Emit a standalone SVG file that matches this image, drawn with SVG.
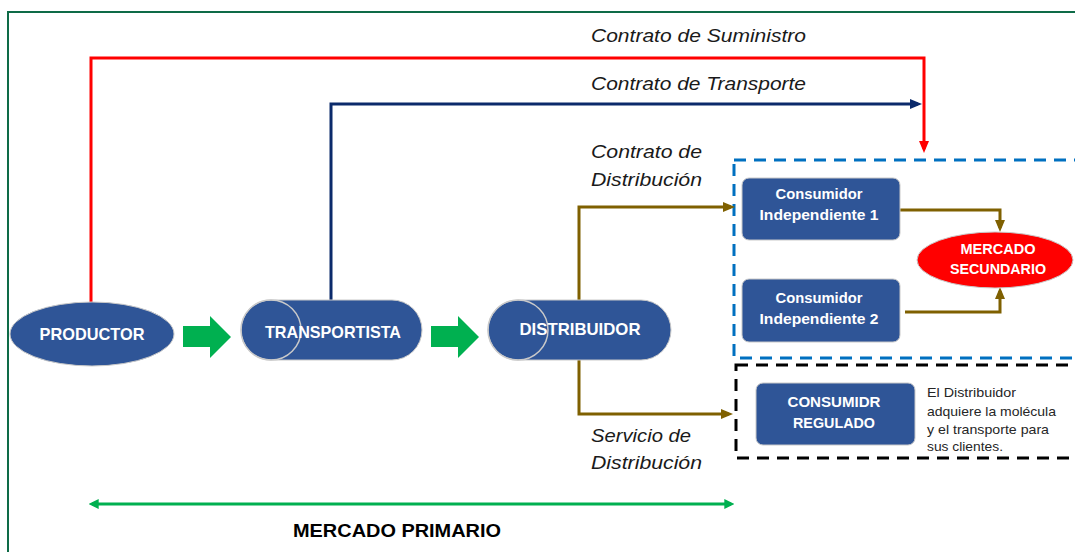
<svg xmlns="http://www.w3.org/2000/svg" width="1075" height="552" viewBox="0 0 1075 552">
<style>
.node{fill:#2f5597;stroke:#c9c9c9;stroke-width:1}
.lbl{font-family:"Liberation Sans",Arial,sans-serif;font-weight:bold;fill:#fff;text-anchor:middle}
.it{font-family:"Liberation Sans",Arial,sans-serif;font-style:italic;font-size:19px;fill:#1a1a1a}
.note{font-family:"Liberation Sans",Arial,sans-serif;font-size:13.5px;fill:#262626}
.conn{fill:none;stroke-width:3}
.blk{fill:#00b050}
</style>
<defs>
<marker id="aRed" viewBox="0 0 12 10" refX="8" refY="5" markerWidth="12" markerHeight="10" markerUnits="userSpaceOnUse" orient="auto"><path d="M0,0 L12,5 L0,10 z" fill="#ff0000"/></marker>
<marker id="aNavy" viewBox="0 0 12 10" refX="8" refY="5" markerWidth="12" markerHeight="10" markerUnits="userSpaceOnUse" orient="auto"><path d="M0,0 L12,5 L0,10 z" fill="#0b2a6b"/></marker>
<marker id="aBrown" viewBox="0 0 12 10" refX="8" refY="5" markerWidth="12" markerHeight="10" markerUnits="userSpaceOnUse" orient="auto"><path d="M0,0 L12,5 L0,10 z" fill="#7f6000"/></marker>
<marker id="aGreen" viewBox="0 0 12 12" refX="8" refY="6" markerWidth="10" markerHeight="10" markerUnits="userSpaceOnUse" orient="auto-start-reverse"><path d="M0,0 L12,6 L0,12 z" fill="#00b050"/></marker>
</defs>
<rect width="1075" height="552" fill="#fff"/>
<rect x="8" y="12" width="1080" height="560" fill="none" stroke="#0e6b47" stroke-width="2"/>

<g id="zones">
<rect x="734" y="160" width="360" height="198" fill="none" stroke="#0070c0" stroke-width="3" stroke-dasharray="12 8"/>
<rect x="736" y="365" width="360" height="93" fill="none" stroke="#000" stroke-width="3" stroke-dasharray="12 8"/>
</g>

<g id="connectors">
<path class="conn" d="M91,302 V58 H924 V149" stroke="#ff0000" marker-end="url(#aRed)"/>
<path class="conn" d="M331,300 V104 H918" stroke="#0b2a6b" marker-end="url(#aNavy)"/>
<path class="conn" d="M579,300 V207 H731" stroke="#7f6000" marker-end="url(#aBrown)"/>
<path class="conn" d="M579,360 V414 H729" stroke="#7f6000" marker-end="url(#aBrown)"/>
<path class="conn" d="M900,210 H1000 V228" stroke="#7f6000" marker-end="url(#aBrown)"/>
<path class="conn" d="M905,312 H1000 V291" stroke="#7f6000" marker-end="url(#aBrown)"/>
<path class="conn" d="M92,504 H731" stroke="#00b050" stroke-width="4" marker-start="url(#aGreen)" marker-end="url(#aGreen)"/>
<polygon class="blk" points="183,326 210,326 210,316 231,337 210,358 210,347 183,347"/>
<polygon class="blk" points="431,326 458,326 458,316 479,337 458,358 458,347 431,347"/>
</g>

<g id="labels">
<text class="it" x="591" y="42" textLength="215" lengthAdjust="spacingAndGlyphs">Contrato de Suministro</text>
<text class="it" x="591" y="90" textLength="215" lengthAdjust="spacingAndGlyphs">Contrato de Transporte</text>
<text class="it" x="591" y="158" textLength="111" lengthAdjust="spacingAndGlyphs">Contrato de</text>
<text class="it" x="591" y="186" textLength="111" lengthAdjust="spacingAndGlyphs">Distribución</text>
<text class="it" x="591" y="442" textLength="100" lengthAdjust="spacingAndGlyphs">Servicio de</text>
<text class="it" x="591" y="469" textLength="111" lengthAdjust="spacingAndGlyphs">Distribución</text>
<text x="397" y="537" font-family="Liberation Sans,Arial,sans-serif" font-weight="bold" font-size="18" fill="#000" text-anchor="middle" textLength="208" lengthAdjust="spacingAndGlyphs">MERCADO PRIMARIO</text>
</g>

<g id="productor">
<ellipse class="node" cx="92" cy="334" rx="82" ry="32"/>
<text class="lbl" x="92" y="340" font-size="17" textLength="105" lengthAdjust="spacingAndGlyphs">PRODUCTOR</text>
</g>

<g id="transportista">
<rect class="node" x="241" y="300" width="181" height="60" rx="30"/>
<circle cx="271" cy="330" r="30" fill="none" stroke="#c9c9c9" stroke-width="1.5"/>
<text class="lbl" x="333" y="338" font-size="17" textLength="136" lengthAdjust="spacingAndGlyphs">TRANSPORTISTA</text>
</g>

<g id="distribuidor">
<rect class="node" x="488" y="300" width="183" height="60" rx="30"/>
<circle cx="518" cy="330" r="30" fill="none" stroke="#c9c9c9" stroke-width="1.5"/>
<text class="lbl" x="580" y="335" font-size="17" textLength="121" lengthAdjust="spacingAndGlyphs">DISTRIBUIDOR</text>
</g>

<g id="consumidor1">
<rect class="node" x="742" y="178" width="158" height="62" rx="7"/>
<text class="lbl" x="819" y="199" font-size="14.5" textLength="87" lengthAdjust="spacingAndGlyphs">Consumidor</text>
<text class="lbl" x="819" y="220" font-size="14.5" textLength="119" lengthAdjust="spacingAndGlyphs">Independiente 1</text>
</g>

<g id="consumidor2">
<rect class="node" x="742" y="279" width="158" height="63" rx="7"/>
<text class="lbl" x="819" y="303" font-size="14.5" textLength="87" lengthAdjust="spacingAndGlyphs">Consumidor</text>
<text class="lbl" x="819" y="324" font-size="14.5" textLength="119" lengthAdjust="spacingAndGlyphs">Independiente 2</text>
</g>

<g id="mercadoSecundario">
<ellipse cx="995" cy="260" rx="78" ry="28" fill="#ff0000" stroke="#c9c9c9" stroke-width="1"/>
<text class="lbl" x="998" y="254" font-size="14.5" textLength="75" lengthAdjust="spacingAndGlyphs">MERCADO</text>
<text class="lbl" x="998" y="274" font-size="14.5" textLength="96" lengthAdjust="spacingAndGlyphs">SECUNDARIO</text>
</g>

<g id="consumidorRegulado">
<rect class="node" x="756" y="383" width="159" height="62" rx="7"/>
<text class="lbl" x="834" y="407" font-size="14.5" textLength="93" lengthAdjust="spacingAndGlyphs">CONSUMIDR</text>
<text class="lbl" x="834" y="428" font-size="14.5" textLength="82" lengthAdjust="spacingAndGlyphs">REGULADO</text>
</g>

<g id="nota">
<text class="note" x="927" y="397" textLength="89" lengthAdjust="spacingAndGlyphs">El Distribuidor</text>
<text class="note" x="927" y="416" textLength="129" lengthAdjust="spacingAndGlyphs">adquiere la molécula</text>
<text class="note" x="927" y="434" textLength="122" lengthAdjust="spacingAndGlyphs">y el transporte para</text>
<text class="note" x="927" y="451" textLength="76" lengthAdjust="spacingAndGlyphs">sus clientes.</text>
</g>
</svg>
